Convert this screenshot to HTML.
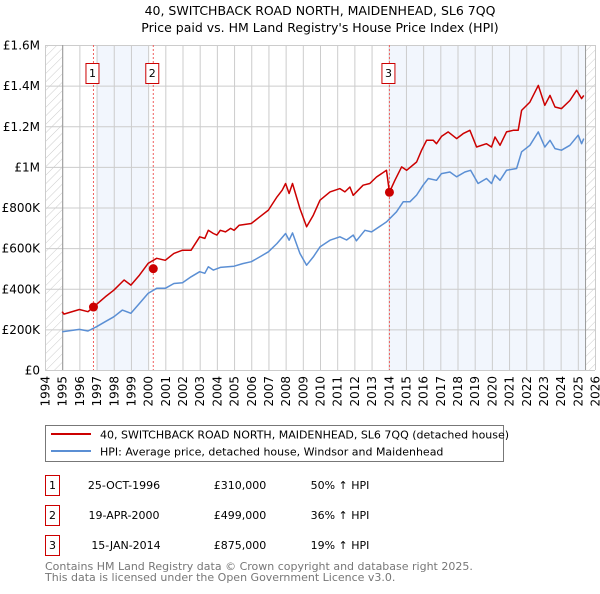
<!DOCTYPE html>
<html><head><meta charset="utf-8">
<style>
body{margin:0;background:#fff;font-family:"DejaVu Sans","Liberation Sans",sans-serif;}
svg text{font-family:"DejaVu Sans","Liberation Sans",sans-serif;}
</style></head>
<body>
<svg id="c" width="600" height="590" viewBox="0 0 600 590" xmlns="http://www.w3.org/2000/svg">
<defs>
<pattern id="hatch" width="6" height="6" patternUnits="userSpaceOnUse" patternTransform="rotate(45)">
<line x1="0" y1="0" x2="0" y2="6" stroke="#ccc" stroke-width="1"/>
</pattern>
</defs>
<text x="320" y="15" font-size="12.5" text-anchor="middle">40, SWITCHBACK ROAD NORTH, MAIDENHEAD, SL6 7QQ</text>
<text x="320" y="32" font-size="12.5" text-anchor="middle">Price paid vs. HM Land Registry's House Price Index (HPI)</text>
<g id="plot"></g>
<g>
<rect x="45.5" y="425.5" width="458" height="36" fill="#fff" stroke="#777"/>
<line x1="51" y1="434" x2="91" y2="434" stroke="#cc0000" stroke-width="2"/>
<text x="100" y="438.5" font-size="11">40, SWITCHBACK ROAD NORTH, MAIDENHEAD, SL6 7QQ (detached house)</text>
<line x1="51" y1="451" x2="91" y2="451" stroke="#5b8fd4" stroke-width="2"/>
<text x="100" y="455.5" font-size="11">HPI: Average price, detached house, Windsor and Maidenhead</text>
</g>
<g font-size="11">
<rect x="45.5" y="475.5" width="14" height="20" fill="#fff" stroke="#cc0000"/><text x="52.5" y="489" text-anchor="middle">1</text>
<text x="124" y="489" text-anchor="middle">25-OCT-1996</text><text x="240" y="489" text-anchor="middle">£310,000</text><text x="340" y="489" text-anchor="middle">50% ↑ HPI</text>
<rect x="45.5" y="505.5" width="14" height="20" fill="#fff" stroke="#cc0000"/><text x="52.5" y="519" text-anchor="middle">2</text>
<text x="124" y="519" text-anchor="middle">19-APR-2000</text><text x="240" y="519" text-anchor="middle">£499,000</text><text x="340" y="519" text-anchor="middle">36% ↑ HPI</text>
<rect x="45.5" y="535.5" width="14" height="20" fill="#fff" stroke="#cc0000"/><text x="52.5" y="549" text-anchor="middle">3</text>
<text x="126" y="549" text-anchor="middle">15-JAN-2014</text><text x="240" y="549" text-anchor="middle">£875,000</text><text x="340" y="549" text-anchor="middle">19% ↑ HPI</text>
</g>
<text x="45" y="570" font-size="11" fill="#777">Contains HM Land Registry data © Crown copyright and database right 2025.</text>
<text x="45" y="581" font-size="11" fill="#777">This data is licensed under the Open Government Licence v3.0.</text>
</svg>
<script>
const yTickValues=[0,200000,400000,600000,800000,1000000,1200000,1400000,1600000];
const yTickLabels=["£0","£200K","£400K","£600K","£800K","£1M","£1.2M","£1.4M","£1.6M"];
const xYears=[1994,1995,1996,1997,1998,1999,2000,2001,2002,2003,2004,2005,2006,2007,2008,2009,2010,2011,2012,2013,2014,2015,2016,2017,2018,2019,2020,2021,2022,2023,2024,2025,2026];
const saleYears=[1996.82,2000.3,2014.04];
const salePrices=[310000,499000,875000];
const saleLabels=["1","2","3"];
const propYears=[1995.0,1995.1,1996.0,1996.5,1996.82,1997.5,1998.0,1998.6,1999.0,1999.5,2000.0,2000.3,2000.5,2001.0,2001.5,2002.0,2002.5,2003.0,2003.3,2003.5,2003.8,2004.0,2004.2,2004.5,2004.8,2005.0,2005.3,2006.0,2006.5,2007.0,2007.5,2007.8,2008.0,2008.2,2008.4,2008.83,2009.22,2009.61,2010.0,2010.58,2011.16,2011.45,2011.74,2011.93,2012.51,2012.9,2013.29,2013.87,2014.04,2014.36,2014.75,2015.04,2015.62,2015.91,2016.2,2016.59,2016.78,2017.07,2017.46,2017.95,2018.33,2018.72,2019.11,2019.69,2019.98,2020.18,2020.47,2020.85,2021.24,2021.53,2021.73,2022.21,2022.7,2023.08,2023.38,2023.67,2024.05,2024.54,2024.93,2025.22,2025.35];
const propValues=[287000,275000,298000,287000,310000,360000,393000,443000,418000,467000,525000,540000,550000,540000,574000,590000,590000,656000,648000,688000,672000,664000,688000,680000,697000,688000,713000,721000,754000,787000,852000,885000,918000,869000,918000,795000,705000,762000,836000,877000,893000,877000,901000,860000,910000,918000,950000,983000,875000,934000,1000000,983000,1024000,1082000,1131000,1131000,1114000,1150000,1172000,1139000,1164000,1180000,1098000,1114000,1098000,1147000,1106000,1172000,1180000,1180000,1278000,1319000,1401000,1303000,1352000,1295000,1287000,1327000,1377000,1336000,1352000];
const hpiYears=[1995.0,1996.0,1996.5,1997.0,1997.5,1998.0,1998.5,1999.0,1999.5,2000.0,2000.5,2001.0,2001.5,2002.0,2002.5,2003.0,2003.3,2003.5,2003.8,2004.2,2005.0,2005.5,2006.0,2006.5,2007.0,2007.5,2008.0,2008.2,2008.4,2008.83,2009.22,2009.61,2010.0,2010.58,2011.16,2011.55,2011.93,2012.12,2012.61,2013.0,2013.87,2014.45,2014.84,2015.23,2015.62,2016.0,2016.3,2016.78,2017.07,2017.56,2017.95,2018.43,2018.76,2019.2,2019.69,2019.98,2020.18,2020.47,2020.85,2021.44,2021.73,2022.21,2022.7,2023.08,2023.38,2023.67,2024.05,2024.54,2025.02,2025.22,2025.35];
const hpiValues=[188000,200000,192000,213000,238000,262000,295000,279000,328000,377000,402000,402000,426000,430000,459000,484000,476000,508000,492000,505000,511000,524000,533000,557000,582000,623000,672000,639000,675000,574000,516000,557000,606000,639000,656000,640000,664000,636000,688000,680000,729000,779000,828000,828000,861000,910000,943000,934000,967000,975000,951000,975000,983000,918000,943000,918000,959000,934000,983000,992000,1074000,1106000,1172000,1098000,1131000,1090000,1082000,1106000,1156000,1114000,1139000];

const NS="http://www.w3.org/2000/svg";
const L=45,R=595,T=45,B=370,X0=1994,X1=2026,YMAX=1600000,DATA_END=2025.45;
const xs=v=>L+(v-X0)/(X1-X0)*(R-L);
const ys=v=>B-v/YMAX*(B-T);
const plot=document.getElementById('plot');
function mk(tag,attrs,parent){const e=document.createElementNS(NS,tag);for(const k in attrs)e.setAttribute(k,attrs[k]);(parent||plot).appendChild(e);return e;}

let e;
e=mk('rect',{x:xs(1997),y:T,width:xs(2000)-xs(1997),height:B-T,fill:'#f2f6fd'});


e=mk('rect',{x:xs(saleYears[2]),y:T,width:xs(DATA_END)-xs(saleYears[2]),height:B-T,fill:'#f2f6fd'});


e=mk('rect',{x:L,y:T,width:xs(1995)-L,height:B-T,fill:'url(#hatch)'});


e=mk('rect',{x:xs(DATA_END),y:T,width:R-xs(DATA_END),height:B-T,fill:'url(#hatch)'});



yTickValues.forEach((v,i)=>{
  const g=mk('line',{x1:L,x2:R,y1:ys(v)+0.5,y2:ys(v)+0.5,stroke:'#ccc','stroke-width':1});
  
  
  const t=mk('text',{x:40,y:ys(v)+4.5,'font-size':12,'text-anchor':'end'});
  t.textContent=yTickLabels[i];
  
  
});
xYears.forEach(yr=>{
  const g=mk('line',{x1:xs(yr)+0.5,x2:xs(yr)+0.5,y1:T,y2:B,stroke:'#ccc','stroke-width':1});
  
  
  const x=xs(yr)+4.5,y=B+6;
  const t=mk('text',{x:x,y:y,'font-size':12,'text-anchor':'end',transform:`rotate(-90 ${x} ${y})`});
  t.textContent=yr;
  
  
});
e=mk('line',{x1:xs(1995)+0.5,x2:xs(1995)+0.5,y1:T,y2:B,stroke:'#999'});


e=mk('line',{x1:xs(DATA_END),x2:xs(DATA_END),y1:T,y2:B,stroke:'#999'});



saleYears.forEach((yr,i)=>{
  const l=mk('line',{x1:xs(yr),x2:xs(yr),y1:T,y2:B,stroke:'#f06060','stroke-dasharray':'2,2','stroke-width':1});
  
  
  const r=mk('rect',{x:xs(yr)-7.5,y:63.5,width:13,height:20,fill:'#fff',stroke:'#cc0000'});
  
  
  const t=mk('text',{x:xs(yr)-1,y:77,'font-size':11,'text-anchor':'middle'});
  t.textContent=saleLabels[i];
  
  
});

function path(xsArr,vals,color,name){
  const d=xsArr.map((yr,i)=>(i?'L':'M')+xs(yr).toFixed(1)+','+ys(vals[i]).toFixed(1)).join('');
  const p=mk('path',{d:d,fill:'none',stroke:color,'stroke-width':1.5,'stroke-linejoin':'round'});
  
  
}
path(hpiYears,hpiValues,'#5b8fd4','hpi-line');
path(propYears,propValues,'#cc0000','property-price-line');
saleYears.forEach((yr,i)=>{
  const c=mk('circle',{cx:xs(yr),cy:ys(salePrices[i]),r:4.5,fill:'#cc0000'});
  
  
});
</script>
</body></html>
